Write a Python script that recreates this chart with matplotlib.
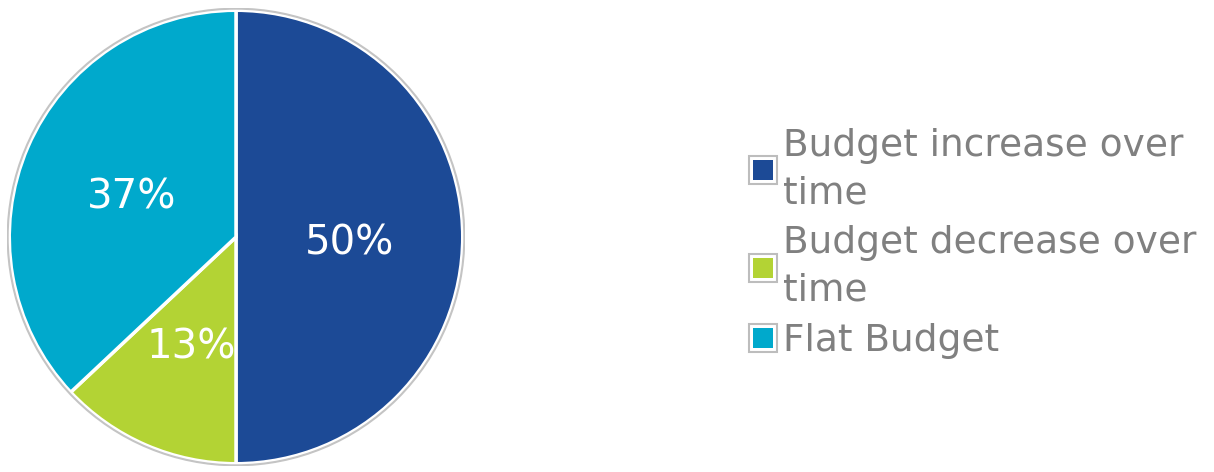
import matplotlib.pyplot as plt
import matplotlib.transforms as mtransforms
from matplotlib.lines import Line2D
from matplotlib.patches import Circle
from matplotlib.legend_handler import HandlerTuple

labels = ["Budget increase over\ntime", "Budget decrease over\ntime", "Flat Budget"]
values = [50, 13, 37]
colors = ["#1c4a96", "#b3d334", "#00a9cc"]

fig = plt.figure(figsize=(12.14, 4.72), dpi=100)

# pie axes sized so the circle sits at the left like the original
ax = fig.add_axes([7 / 1214, 6 / 472, 458 / 1214, 458 / 472])
wedges, texts, autotexts = ax.pie(
    values, colors=colors, startangle=90, counterclock=False,
    autopct="%1.0f%%", pctdistance=0.5,
    wedgeprops=dict(edgecolor="white", linewidth=2.5),
    textprops=dict(color="white", fontsize=29))
ax.add_patch(Circle((0, 0), 1.007, facecolor="none", edgecolor="#c4c4c4", linewidth=1.5))
ax.set_xlim(-1.01, 1.01)
ax.set_ylim(-1.01, 1.01)
ax.set_aspect("equal")
ax.axis("off")

# labels sit a touch lower in the original
for t in autotexts:
    t.set_transform(mtransforms.offset_copy(t.get_transform(), fig, y=-6, units="dots"))

# gray framed square with a white gap, colour square inside
handles = []
for c in colors:
    outer = Line2D([], [], marker="s", linestyle="", markersize=20,
                   markerfacecolor="white", markeredgecolor="#bdbdbd", markeredgewidth=1.5)
    inner = Line2D([], [], marker="s", linestyle="", markersize=14,
                   markerfacecolor=c, markeredgecolor=c, markeredgewidth=0)
    handles.append((outer, inner))

leg = fig.legend(handles, labels, loc="upper left", bbox_to_anchor=(748 / 1214, 0.729),
                 frameon=False, fontsize=27, handlelength=0.8, handletextpad=0.13,
                 labelspacing=0.38, borderpad=0, borderaxespad=0,
                 handler_map={tuple: HandlerTuple(ndivide=1)})
for t in leg.get_texts():
    t.set_color("#808080")
    t.set_linespacing(1.4)

fig.savefig("out.png", dpi=100)
